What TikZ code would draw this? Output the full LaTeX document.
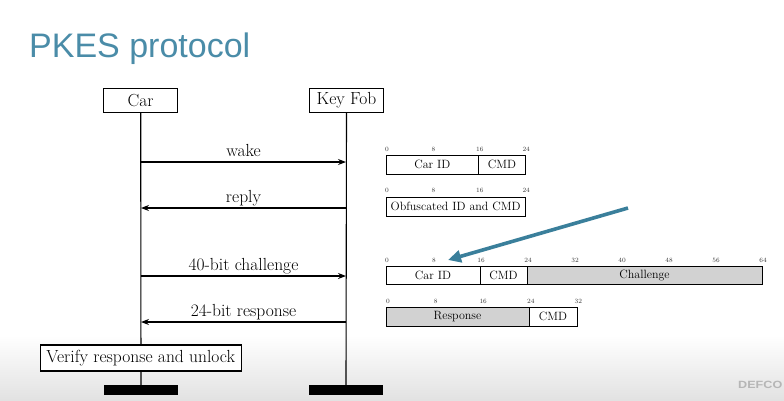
\documentclass[tikz,border=0pt]{standalone}
\usepackage{fontspec}
\newfontfamily\titlefont{Liberation Sans}
\usetikzlibrary{arrows.meta}
\definecolor{titleblue}{RGB}{74,140,168}
\definecolor{pointer}{RGB}{58,127,155}
\definecolor{fieldgray}{RGB}{210,210,210}
\definecolor{floorgray}{RGB}{226,226,226}
\definecolor{logogray}{RGB}{182,182,182}

\begin{document}
\begin{tikzpicture}[x=1pt,y=-1pt,
  actor/.style={draw, line width=1.1pt, fill=white, minimum width=74pt, minimum height=24pt,
    inner sep=0pt, outer sep=0pt, font=\fontsize{17.5}{20}\selectfont},
  lifebar/.style={fill=black, minimum width=74pt, minimum height=10pt, inner sep=0pt, outer sep=0pt},
  life/.style={line width=1.1pt},
  msg/.style={line width=1.1pt, -{Stealth[length=8pt,width=6pt]}},
  msglabel/.style={midway, anchor=base, yshift=6pt, font=\fontsize{17.5}{20}\selectfont},
  field/.style={draw, line width=0.7pt, anchor=north west, inner sep=0pt, outer sep=0pt,
    minimum height=19pt, font=\fontsize{12}{14}\selectfont},
  bitmark/.style={font=\fontsize{6.5}{7}\selectfont, anchor=base, text=black!80},
]
% page and a soft floor shade
\useasboundingbox (0,0) rectangle (784,400);
\fill[white] (0,0) rectangle (784,400);
\shade[top color=white, bottom color=floorgray] (0,335) rectangle (784,400);

% title
\node[anchor=base west, inner sep=0pt, text=titleblue, font=\titlefont\fontsize{34}{40}\selectfont]
  (title) at (29,57) {PKES protocol};

% actors and lifelines
\node[actor] (car) at (140.7,100.5) {Car};
\node[actor] (fob) at (346.5,100.5) {Key Fob};
\node[lifebar] (carend) at (141,390) {};
\node[lifebar] (fobend) at (346,390) {};
\draw[life] (car.south) -- (carend.north);
\draw[life] (fob.south) -- (fobend.north);

% message anchors on the lifelines
\coordinate (c1) at (141,162);  \coordinate (f1) at (346,162);
\coordinate (c2) at (141,208);  \coordinate (f2) at (346,208);
\coordinate (c3) at (141,276);  \coordinate (f3) at (346,276);
\coordinate (c4) at (141,322);  \coordinate (f4) at (346,322);

\draw[msg] (c1) -- node[msglabel] {wake} (f1);
\draw[msg] (f2) -- node[msglabel] {reply} (c2);
\draw[msg] (c3) -- node[msglabel] {40-bit challenge} (f3);
\draw[msg] (f4) -- node[msglabel] {24-bit response} (c4);

\node[actor, minimum width=201pt, minimum height=26pt] (verify) at (140.7,358) {Verify response and unlock};

% packet: wake (24 bits)
\foreach \b in {0,8,16,24} \node[bitmark] at (387+\b*5.8,151) {\b};
\node[field, minimum width=92.8pt] (wid) at (386,155) {Car ID};
\node[field, minimum width=46.4pt] (wcmd) at (wid.north east) {CMD};

% packet: reply (24 bits)
\foreach \b in {0,8,16,24} \node[bitmark] at (387+\b*5.8,192.5) {\b};
\node[field, minimum width=139.2pt] (rall) at (386,197) {Obfuscated ID and CMD};

% packet: challenge (64 bits)
\foreach \b in {0,8,16,24,32,40,48,56,64} \node[bitmark] (k\b) at (387+\b*5.875,262) {\b};
\node[field, minimum width=94pt, minimum height=18.5pt] (cid) at (386,266) {Car ID};
\node[field, minimum width=47pt, minimum height=18.5pt] (ccmd) at (cid.north east) {CMD};
\node[field, fill=fieldgray, minimum width=235pt, minimum height=18.5pt] (cchal) at (ccmd.north east) {Challenge};

% packet: response (32 bits)
\foreach \b in {0,8,16,24,32} \node[bitmark] at (388+\b*5.95,303) {\b};
\node[field, fill=fieldgray, minimum width=143pt] (rresp) at (386,307) {Response};
\node[field, minimum width=48pt] (rcmd) at (rresp.north east) {CMD};

% pointer arrow
\coordinate (ptail) at (628,208);
\coordinate (phead) at (448,260);
\draw[pointer, line width=3.6pt, -{Triangle[length=13pt,width=12pt]}] (ptail) -- (phead);

% corner logo
\node[anchor=base west, inner sep=0pt, text=logogray, font=\titlefont\bfseries\fontsize{10.5}{12}\selectfont]
  (logo) at (738,388) {\scalebox{1.2}[1]{DEFCO}};
\end{tikzpicture}
\end{document}
